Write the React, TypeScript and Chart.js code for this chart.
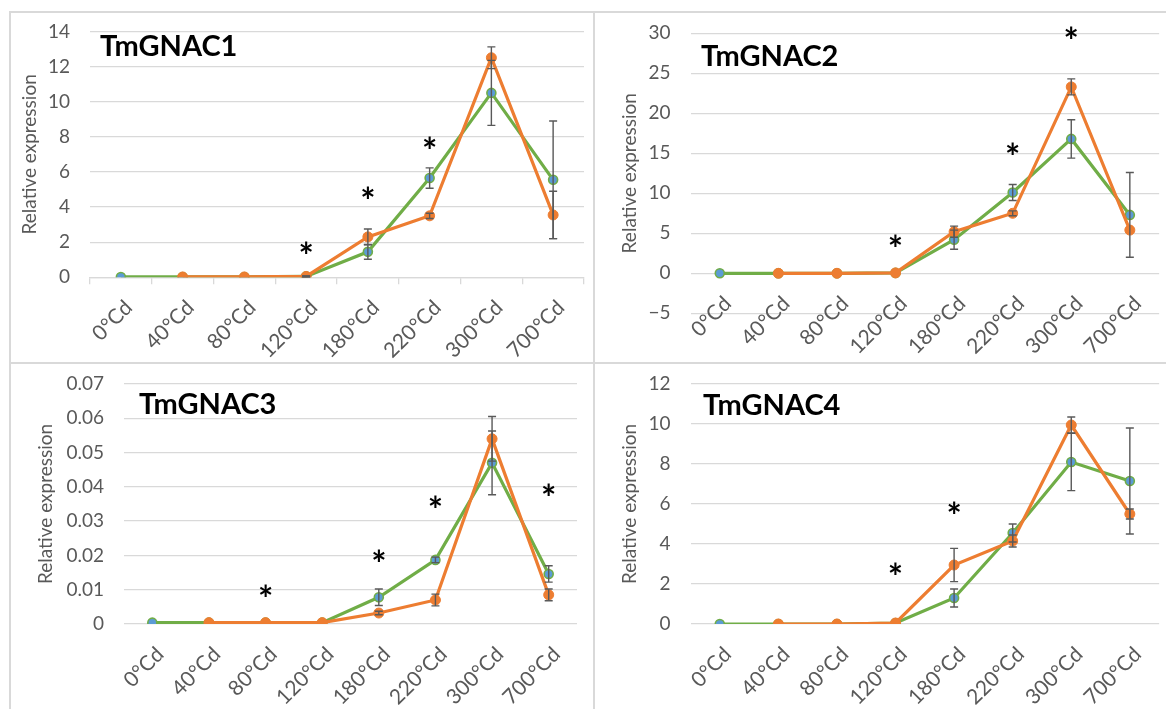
import React, { useEffect, useRef } from 'react';
import { Chart, registerables } from 'chart.js';

Chart.register(...registerables);

// ---------- data ----------
const categories = ['0°Cd', '40°Cd', '80°Cd', '120°Cd', '180°Cd', '220°Cd', '300°Cd', '700°Cd'];

const g1Green = [0.02, 0.02, 0.02, 0.05, 1.45, 5.65, 10.5, 5.55];
const g1Orange = [null, 0.02, 0.02, 0.05, 2.3, 3.5, 12.5, 3.55];
const g1GreenErr = [0, 0, 0, 0.02, 0.42, 0.58, 1.85, 3.35];
const g1OrangeErr = [null, 0, 0, 0.02, 0.45, 0.15, 0.62, 1.35];
const g1Stars = [null, null, null, 1.65, 4.8, 7.65, null, null];

const g2Green = [0, 0, 0, 0.05, 4.2, 10.1, 16.8, 7.3];
const g2Orange = [null, 0, 0, 0.05, 5.2, 7.5, 23.3, 5.4];
const g2GreenErr = [0, 0, 0, 0, 1.2, 1.0, 2.4, 5.3];
const g2OrangeErr = [null, 0, 0, 0, 0.7, 0.3, 1.0, 0];
const g2Stars = [null, null, null, 4.0, null, 15.5, 30, null];

const g3Green = [0.0004, 0.0004, 0.0004, 0.0004, 0.0078, 0.0187, 0.047, 0.0146];
const g3Orange = [null, 0.0004, 0.0004, 0.0004, 0.0032, 0.007, 0.054, 0.0085];
const g3GreenErr = [0, 0, 0, 0, 0.0024, 0.0008, 0.0093, 0.0024];
const g3OrangeErr = [null, 0, 0, 0, 0.0005, 0.0017, 0.0065, 0.0017];
const g3Stars = [null, null, 0.0094, null, 0.0196, 0.0354, null, 0.039];

const g4Green = [0, 0, 0, 0.05, 1.3, 4.55, 8.1, 7.15];
const g4Orange = [null, 0, 0, 0.05, 2.95, 4.15, 9.95, 5.5];
const g4GreenErr = [0, 0, 0, 0, 0.45, 0.45, 1.43, 2.65];
const g4OrangeErr = [null, 0, 0, 0, 0.83, 0.3, 0.4, 0.25];
const g4Stars = [null, null, null, 2.75, 5.8, null, null, null];

const yTitle = 'Relative expression';

// ---------- styles / layout ----------
const W = 1166;
const H = 709;
const FONT = 'Lato, "Open Sans", "Liberation Sans", sans-serif';
const GREEN = '#70AD47';
const ORANGE = '#ED7D31';
const BLUE = '#5B9BD5';
const GRID = '#d9d9d9';
const TEXT = '#595959';
const TICK_SIZE = 19;
const X_TICK_SIZE = 21;
const Y_TITLE_SIZE = 19;
const Y_TITLE_LH = Y_TITLE_SIZE * 1.2;
const STAR_SIZE = 36;

const panels = [
  {
    name: 'TmGNAC1', green: g1Green, orange: g1Orange, greenErr: g1GreenErr, orangeErr: g1OrangeErr, stars: g1Stars,
    yMin: 0, yMax: 14, yStep: 2, axisLine: true, axisAtZero: false,
    box: { left: 90, right: 584, top: 29.5, bottom: 277.3, yTitleX: 29.4, titleX: 100, titleY: 47 },
  },
  {
    name: 'TmGNAC2', green: g2Green, orange: g2Orange, greenErr: g2GreenErr, orangeErr: g2OrangeErr, stars: g2Stars,
    yMin: -5, yMax: 30, yStep: 5, axisLine: false, axisAtZero: true,
    box: { left: 690.5, right: 1160.5, top: 33.3, bottom: 313.3, yTitleX: 630, titleX: 701, titleY: 57 },
  },
  {
    name: 'TmGNAC3', green: g3Green, orange: g3Orange, greenErr: g3GreenErr, orangeErr: g3OrangeErr, stars: g3Stars,
    yMin: 0, yMax: 0.07, yStep: 0.01, axisLine: false, axisAtZero: false,
    box: { left: 124, right: 577, top: 384, bottom: 624, yTitleX: 45.5, titleX: 139, titleY: 405 },
  },
  {
    name: 'TmGNAC4', green: g4Green, orange: g4Orange, greenErr: g4GreenErr, orangeErr: g4OrangeErr, stars: g4Stars,
    yMin: 0, yMax: 12, yStep: 2, axisLine: false, axisAtZero: false,
    box: { left: 690.5, right: 1160.5, top: 384, bottom: 624, yTitleX: 630, titleX: 703, titleY: 406 },
  },
];

const errorBarPlugin = {
  id: 'errorBars',
  afterDatasetsDraw(chart: any, _args: any, opts: any) {
    const { ctx } = chart;
    const x = chart.scales.x;
    const y = chart.scales.y;
    ctx.save();
    ctx.strokeStyle = '#595959';
    ctx.lineWidth = 1.4;
    const sets = [
      { vals: opts.green, errs: opts.greenErr },
      { vals: opts.orange, errs: opts.orangeErr },
    ];
    sets.forEach(({ vals, errs }) => {
      vals.forEach((v: number | null, i: number) => {
        const e = errs[i];
        if (v == null || !e) return;
        const px = x.getPixelForValue(i);
        const top = y.getPixelForValue(v + e);
        const bot = y.getPixelForValue(v - e);
        ctx.beginPath();
        ctx.moveTo(px, top);
        ctx.lineTo(px, bot);
        ctx.moveTo(px - 4, top);
        ctx.lineTo(px + 4, top);
        ctx.moveTo(px - 4, bot);
        ctx.lineTo(px + 4, bot);
        ctx.stroke();
      });
    });
    ctx.restore();
  },
};

const starPlugin = {
  id: 'stars',
  afterDatasetsDraw(chart: any, _args: any, opts: any) {
    const { ctx } = chart;
    const x = chart.scales.x;
    const y = chart.scales.y;
    ctx.save();
    ctx.fillStyle = '#000';
    ctx.font = `bold ${STAR_SIZE}px ${FONT}`;
    ctx.textAlign = 'center';
    ctx.textBaseline = 'middle';
    opts.values.forEach((v: number | null, i: number) => {
      if (v == null) return;
      ctx.fillText('*', x.getPixelForValue(i), y.getPixelForValue(v) + STAR_SIZE * 0.25);
    });
    ctx.restore();
  },
};

const panelTitlePlugin = {
  id: 'panelTitle',
  afterDraw(chart: any, _args: any, opts: any) {
    const { ctx } = chart;
    ctx.save();
    ctx.fillStyle = '#000';
    ctx.font = `bold 29px ${FONT}`;
    ctx.textAlign = 'left';
    ctx.textBaseline = 'middle';
    ctx.fillText(opts.text, opts.x, opts.y);
    ctx.restore();
  },
};

function Panel({ p }: { p: any }) {
  const ref = useRef<HTMLCanvasElement>(null);
  useEffect(() => {
    if (!ref.current) return;
    const b = p.box;
    const scaleLeft = b.yTitleX - Y_TITLE_LH / 2;
    const yw = b.left - scaleLeft;
    const xh = p.axisAtZero ? 0 : 90;
    const tickLen = p.axisLine ? 7 : 0;
    const chart = new Chart(ref.current, {
      type: 'line',
      data: {
        labels: categories,
        datasets: [
          {
            label: 'orange',
            data: p.orange,
            borderColor: ORANGE,
            backgroundColor: ORANGE,
            borderWidth: 3.2,
            pointRadius: 5,
            pointBorderWidth: 1,
            pointBackgroundColor: ORANGE,
            pointBorderColor: ORANGE,
            tension: 0,
            spanGaps: false,
          },
          {
            label: 'green',
            data: p.green,
            borderColor: GREEN,
            backgroundColor: GREEN,
            borderWidth: 3.2,
            pointRadius: 4.5,
            pointBorderWidth: 1.6,
            pointBackgroundColor: BLUE,
            pointBorderColor: GREEN,
            tension: 0,
          },
        ],
      },
      options: {
        animation: false,
        responsive: false,
        events: [],
        layout: {
          autoPadding: false,
          padding: { left: scaleLeft, top: b.top, right: W - b.right, bottom: H - b.bottom - xh },
        },
        plugins: {
          legend: { display: false },
          tooltip: { enabled: false },
          errorBars: { green: p.green, orange: p.orange, greenErr: p.greenErr, orangeErr: p.orangeErr },
          stars: { values: p.stars },
          panelTitle: { text: p.name, x: b.titleX, y: b.titleY },
        },
        scales: {
          x: {
            type: 'category',
            axis: 'x',
            position: p.axisAtZero ? { y: 0 } : 'bottom',
            offset: true,
            afterFit: p.axisAtZero ? undefined : (s: any) => { s.height = xh; },
            grid: {
              display: p.axisLine,
              offset: true,
              drawOnChartArea: false,
              drawTicks: true,
              tickLength: tickLen,
              color: GRID,
              lineWidth: 1.3,
            },
            border: { display: p.axisLine, color: GRID, width: 1.3 },
            ticks: {
              autoSkip: false,
              minRotation: 45,
              maxRotation: 45,
              padding: 18 - tickLen,
              labelOffset: 8,
              color: TEXT,
              font: { family: FONT, size: X_TICK_SIZE },
            },
          },
          y: {
            min: p.yMin,
            max: p.yMax,
            afterFit: (s: any) => { s.width = yw; },
            grid: { color: GRID, lineWidth: 1.3, drawTicks: false },
            border: { display: false },
            ticks: {
              stepSize: p.yStep,
              padding: 20,
              color: TEXT,
              font: { family: FONT, size: TICK_SIZE },
              callback: (v: any) => {
                const n = Math.round(Number(v) * 10000) / 10000;
                return n < 0 ? '\u2212' + Math.abs(n) : String(n);
              },
            },
            title: {
              display: true,
              text: yTitle,
              color: TEXT,
              padding: 0,
              font: { family: FONT, size: Y_TITLE_SIZE, lineHeight: 1.2 },
            },
          },
        },
      },
      plugins: [errorBarPlugin, starPlugin, panelTitlePlugin],
    } as any);
    return () => chart.destroy();
  }, [p]);
  return (
    <canvas
      ref={ref}
      width={W}
      height={H}
      style={{ position: 'absolute', left: 0, top: 0, width: W, height: H }}
    />
  );
}

export default function App() {
  const line = (s: React.CSSProperties) => (
    <div style={{ position: 'absolute', background: GRID, ...s }} />
  );
  return (
    <div style={{ position: 'fixed', left: 0, top: 0, width: W, height: H, background: '#fff', overflow: 'hidden' }}>
      {line({ left: 10, top: 11, width: W - 10, height: 2 })}
      {line({ left: 10, top: 362, width: W - 10, height: 2 })}
      {line({ left: 9, top: 11, width: 2, height: H - 11 })}
      {line({ left: 593, top: 11, width: 2, height: H - 11 })}
      {panels.map((p) => (
        <Panel key={p.name} p={p} />
      ))}
    </div>
  );
}
